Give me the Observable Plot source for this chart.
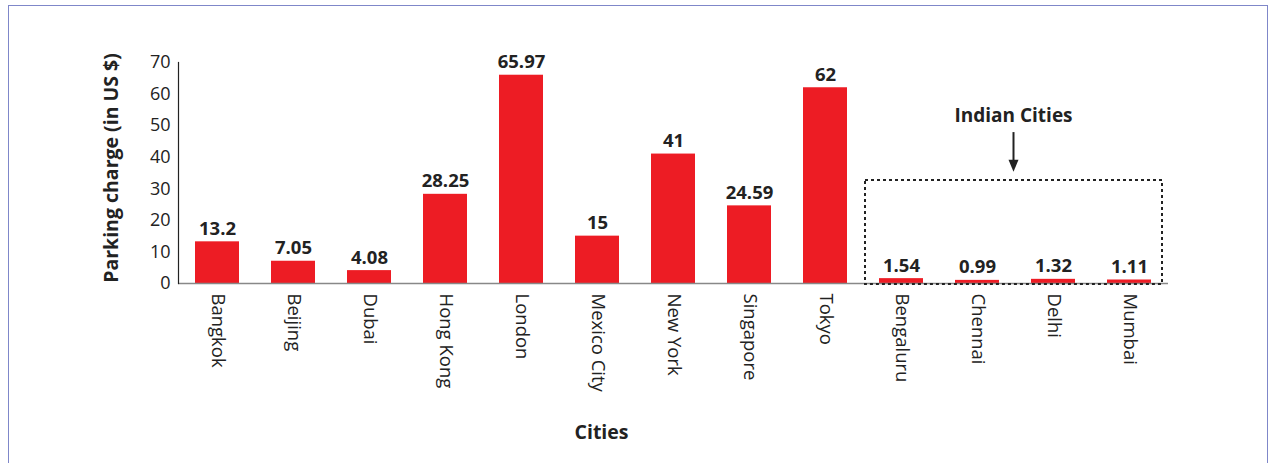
<!DOCTYPE html>
<html><head><meta charset="utf-8">
<script src="https://cdn.jsdelivr.net/npm/d3@7"></script>
<script src="https://cdn.jsdelivr.net/npm/@observablehq/plot@0.6"></script>
<style>
body{margin:0;background:#fff;}
#wrap{position:relative;width:1275px;height:463px;overflow:hidden;background:#fff;}
#border{position:absolute;left:8px;top:5px;width:1260px;height:480px;border:1.5px solid #7f87c9;box-sizing:border-box;pointer-events:none;}
</style></head><body><div id="wrap"><div id="border"></div></div>
<script>
const cities = ["Bangkok","Beijing","Dubai","Hong Kong","London","Mexico City","New York","Singapore","Tokyo","Bengaluru","Chennai","Delhi","Mumbai"];
const charges = [13.2, 7.05, 4.08, 28.25, 65.97, 15, 41, 24.59, 62, 1.54, 0.99, 1.32, 1.11];
const valueLabels = ["13.2","7.05","4.08","28.25","65.97","15","41","24.59","62","1.54","0.99","1.32","1.11"];
const indianCities = ["Bengaluru","Chennai","Delhi","Mumbai"];
const yTicks = [0,10,20,30,40,50,60,70];
const yTitle = "Parking charge (in US $)";
const xTitle = "Cities";
const annotationText = "Indian Cities";
const boxTop = 32.6;
const arrowTop = 47.8;
const arrowTip = 35.2;
const annotationLabelY = 52.6;

const data = cities.map((c, i) => ({city: c, value: charges[i], label: valueLabels[i]}));

function annotation(index, scales) {
  const x = scales.x, y = scales.y;
  const bw = x.bandwidth ? x.bandwidth() : 0;
  const left = x(indianCities[0]) - 14;
  const right = x(indianCities[indianCities.length - 1]) + bw + 11;
  const cx = (left + right) / 2;
  const g = d3.create("svg:g");
  g.append("rect")
    .attr("x", left).attr("y", y(boxTop))
    .attr("width", right - left).attr("height", y(0) + 1 - y(boxTop))
    .attr("fill", "none").attr("stroke", "#222").attr("stroke-width", 2)
    .attr("stroke-dasharray", "3,3");
  g.append("line")
    .attr("x1", cx).attr("x2", cx)
    .attr("y1", y(arrowTop)).attr("y2", y(arrowTip) - 10)
    .attr("stroke", "#222").attr("stroke-width", 2);
  const ty = y(arrowTip);
  g.append("path")
    .attr("d", `M${cx - 5},${ty - 12}L${cx + 5},${ty - 12}L${cx},${ty}Z`)
    .attr("fill", "#222");
  g.append("text")
    .attr("x", cx).attr("y", y(annotationLabelY))
    .attr("text-anchor", "middle").attr("dominant-baseline", "middle")
    .attr("font-weight", "bold").attr("font-size", 19).attr("fill", "#222")
    .text(annotationText);
  return g.node();
}

const chart = Plot.plot({
  width: 1275,
  height: 463,
  marginLeft: 178,
  marginRight: 107,
  marginTop: 62,
  marginBottom: 180,
  style: {fontFamily: "'Open Sans', sans-serif", background: "transparent", color: "#222"},
  x: {type: "band", domain: cities, paddingInner: 0.42, paddingOuter: 0.21, align: 0.5},
  y: {domain: [0, 70]},
  marks: [
    Plot.barY(data, {x: "city", y: "value", fill: "#ed1c24"}),
    Plot.ruleY([0], {stroke: "#888", strokeWidth: 1.5}),
    Plot.frame({anchor: "left", stroke: "#222", strokeWidth: 1.2}),
    Plot.text(data, {x: "city", y: "value", text: "label", dy: -7, lineAnchor: "bottom", fontWeight: "bold", fontSize: 18.5, fill: "#222"}),
    Plot.axisX({tickSize: 0, tickPadding: 10, tickRotate: 90, label: null, fontSize: 18.5}),
    Plot.axisY({ticks: yTicks, tickSize: 0, tickPadding: 8, label: null, fontSize: 18}),
    Plot.text([yTitle], {frameAnchor: "left", dx: -67, dy: -5, rotate: -90, textAnchor: "middle", lineAnchor: "middle", fontWeight: "bold", fontSize: 19.5, fill: "#222"}),
    Plot.text([xTitle], {frameAnchor: "bottom", dx: -72, dy: 155, fontWeight: "bold", fontSize: 19.5, fill: "#222"}),
    annotation
  ]
});
document.getElementById("wrap").insertBefore(chart, document.getElementById("border"));
chart.style.position = "absolute";
chart.style.left = "0";
chart.style.top = "0";
</script>
</body></html>
